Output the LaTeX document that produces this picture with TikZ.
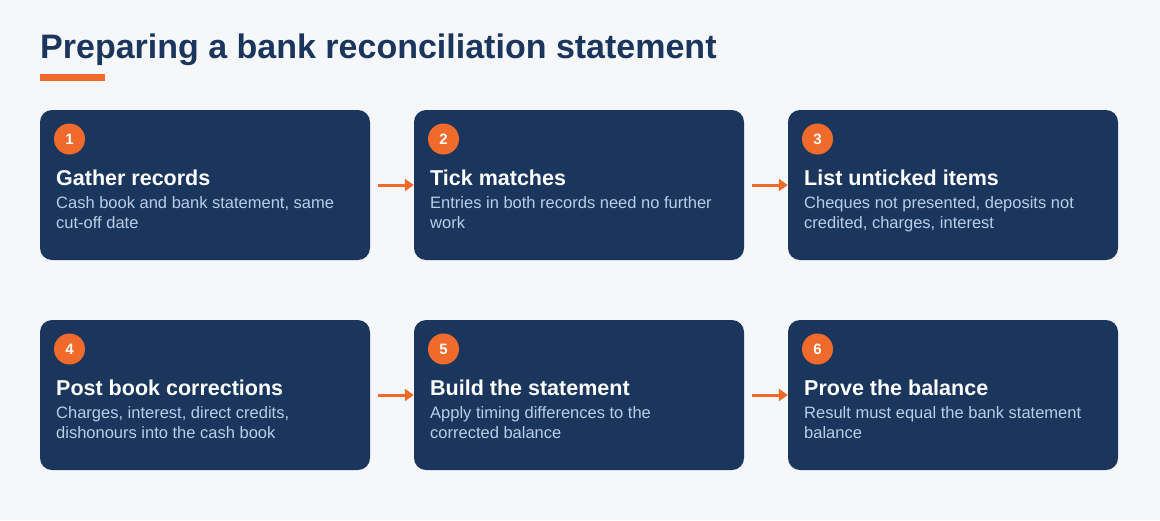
\documentclass[tikz,border=0pt]{standalone}
\usepackage{fontspec}
\setmainfont{Liberation Sans}
\usetikzlibrary{arrows.meta}
\definecolor{navy}{HTML}{1B365D}
\definecolor{accent}{HTML}{EF6A2B}
\definecolor{pale}{HTML}{F5F7FA}
\definecolor{muted}{HTML}{B9CDE8}
\tikzstyle{card}=[rectangle,rounded corners=12pt,fill=navy,minimum width=330pt,minimum height=150pt,inner sep=0pt]
\tikzstyle{badge}=[circle,fill=accent,minimum size=31pt,inner sep=0pt,text=white,font=\bfseries\fontsize{15}{18}\selectfont]
\tikzstyle{head}=[anchor=base west,inner sep=0pt,text=white,font=\bfseries\fontsize{21.5}{24}\selectfont]
\tikzstyle{desc}=[anchor=north west,inner sep=0pt,text=muted,align=left,font=\fontsize{16.5}{20}\selectfont]
\tikzstyle{flow}=[-{Triangle[length=9pt,width=12pt]},accent,line width=3pt]

\begin{document}
\begin{tikzpicture}[x=1pt,y=-1pt]
\fill[pale] (0, 0) rectangle (1160, 520);
\useasboundingbox (0, 0) rectangle (1160, 520);

\node[anchor=base west,inner sep=0pt,text=navy,font=\bfseries\fontsize{34}{40}\selectfont] at (40, 58) (title) {Preparing a bank reconciliation statement};
\fill[accent] (40, 74) rectangle (105, 81);

\node[card] at (205, 185) (b1) {};
\node[card] at (579, 185) (b2) {};
\node[card] at (953, 185) (b3) {};
\node[card] at (205, 395) (b4) {};
\node[card] at (579, 395) (b5) {};
\node[card] at (953, 395) (b6) {};

\node[badge] at (69.5, 139) (n1) {1};
\node[badge] at (443.5, 139) (n2) {2};
\node[badge] at (817.5, 139) (n3) {3};
\node[badge] at (69.5, 349) (n4) {4};
\node[badge] at (443.5, 349) (n5) {5};
\node[badge] at (817.5, 349) (n6) {6};

\node[head] at (56, 185) (h1) {Gather records};
\node[head] at (430, 185) (h2) {Tick matches};
\node[head] at (804, 185) (h3) {List unticked items};
\node[head] at (56, 395) (h4) {Post book corrections};
\node[head] at (430, 395) (h5) {Build the statement};
\node[head] at (804, 395) (h6) {Prove the balance};

\node[desc] at (56, 196) (d1) {Cash book and bank statement, same\\cut-off date};
\node[desc] at (430, 196) (d2) {Entries in both records need no further\\work};
\node[desc] at (804, 196) (d3) {Cheques not presented, deposits not\\credited, charges, interest};
\node[desc] at (56, 406) (d4) {Charges, interest, direct credits,\\dishonours into the cash book};
\node[desc] at (430, 406) (d5) {Apply timing differences to the\\corrected balance};
\node[desc] at (804, 406) (d6) {Result must equal the bank statement\\balance};

\draw[flow] ([xshift=8pt]b1.east) -- (b2.west);
\draw[flow] ([xshift=8pt]b2.east) -- (b3.west);
\draw[flow] ([xshift=8pt]b4.east) -- (b5.west);
\draw[flow] ([xshift=8pt]b5.east) -- (b6.west);
\end{tikzpicture}
\end{document}
